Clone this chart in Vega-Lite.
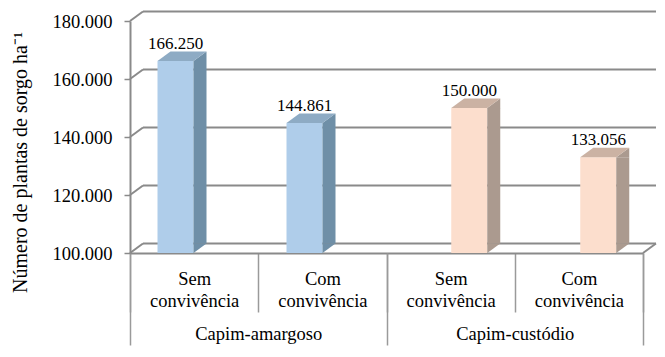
{
  "$schema": "https://vega.github.io/schema/vega-lite/v6.json",
  "width": 526,
  "height": 232,
  "autosize": "none",
  "padding": {"left": 130, "top": 21, "right": 9, "bottom": 104},
  "background": "white",
  "config": {"view": {"stroke": null}, "font": "Times New Roman, serif"},
  "datasets": {
    "bars": [
      {"grupo": "Capim-amargoso", "trat": "Sem convivência", "cat": "Capim-amargoso|Sem convivência", "plantas": 166250},
      {"grupo": "Capim-amargoso", "trat": "Com convivência", "cat": "Capim-amargoso|Com convivência", "plantas": 144861},
      {"grupo": "Capim-custódio", "trat": "Sem convivência", "cat": "Capim-custódio|Sem convivência", "plantas": 150000},
      {"grupo": "Capim-custódio", "trat": "Com convivência", "cat": "Capim-custódio|Com convivência", "plantas": 133056}
    ],
    "grid": [{"v": 100000}, {"v": 120000}, {"v": 140000}, {"v": 160000}, {"v": 180000}]
  },
  "layer": [
    {
      "data": {"name": "grid"},
      "mark": {"type": "rule", "color": "#8a8a8a", "strokeWidth": 2, "yOffset": -9.5, "y2Offset": -9.5},
      "encoding": {
        "x": {"datum": 13, "type": "quantitative", "scale": {"domain": [0, 526]}, "axis": null},
        "x2": {"datum": 526},
        "y": {
          "field": "v", "type": "quantitative",
          "scale": {"domain": [100000, 180000], "zero": false, "nice": false},
          "title": "Número de  plantas de sorgo  ha⁻¹",
          "axis": {
            "values": [100000, 120000, 140000, 160000, 180000],
            "labelExpr": "replace(format(datum.value, ','), ',', '.')",
            "grid": false,
            "tickSize": 6, "tickColor": "#8a8a8a", "tickWidth": 1.5,
            "domainColor": "#8a8a8a", "domainWidth": 2,
            "labelFont": "Times New Roman, serif", "labelFontSize": 18.5, "labelColor": "#000000", "labelPadding": 12,
            "title": "Número de  plantas de sorgo  ha⁻¹",
            "titleFont": "Times New Roman, serif", "titleFontSize": 20, "titleFontWeight": "normal", "titleColor": "#000000",
            "titleAngle": -90, "titleX": -110, "titleY": 141, "titleAlign": "center", "titleBaseline": "middle"
          }
        },
        "y2": {"field": "v"}
      }
    },
    {
      "data": {"name": "grid"},
      "mark": {"type": "rule", "color": "#8a8a8a", "strokeWidth": 2, "y2Offset": -9.5},
      "encoding": {
        "x": {"datum": 0, "type": "quantitative", "scale": {"domain": [0, 526]}, "axis": null},
        "x2": {"datum": 13},
        "y": {"field": "v", "type": "quantitative", "title": "Número de  plantas de sorgo  ha⁻¹"},
        "y2": {"field": "v"}
      }
    },
    {
      "data": {"values": [{"v": 100000}]},
      "mark": {"type": "rule", "color": "#8a8a8a", "strokeWidth": 2, "y2Offset": -9.5},
      "encoding": {
        "x": {"datum": 513, "type": "quantitative", "scale": {"domain": [0, 526]}, "axis": null},
        "x2": {"datum": 526},
        "y": {"field": "v", "type": "quantitative", "title": "Número de  plantas de sorgo  ha⁻¹"},
        "y2": {"field": "v"}
      }
    },
    {
      "data": {"name": "bars"},
      "mark": {"type": "point", "opacity": 0},
      "encoding": {
        "x": {
          "field": "cat", "type": "nominal", "sort": null,
          "scale": {"type": "band", "range": [0, 513], "paddingInner": 0, "paddingOuter": 0},
          "axis": {
            "orient": "bottom", "title": null, "labelAngle": 0,
            "labelExpr": "datum.label ? split(split(datum.label, '|')[1], ' ') : ''",
            "tickBand": "extent", "tickSize": 59, "tickColor": "#9a9a9a", "tickWidth": 1.5,
            "domainColor": "#8a8a8a", "domainWidth": 2,
            "labelFont": "Times New Roman, serif", "labelFontSize": 18.5, "labelColor": "#000000",
            "labelPadding": -43, "labelLineHeight": 22, "labelBaseline": "top"
          }
        },
        "y": {"field": "plantas", "type": "quantitative", "title": "Número de  plantas de sorgo  ha⁻¹"}
      }
    },
    {
      "data": {"name": "bars"},
      "mark": {"type": "point", "opacity": 0},
      "encoding": {
        "x": {
          "field": "grupo", "type": "nominal", "sort": null,
          "scale": {"type": "band", "range": [0, 513], "paddingInner": 0, "paddingOuter": 0},
          "axis": {
            "orient": "bottom", "title": null, "labelAngle": 0, "domain": false,
            "tickBand": "extent", "tickSize": 92, "tickColor": "#9a9a9a", "tickWidth": 1.5,
            "labelFont": "Times New Roman, serif", "labelFontSize": 18.5, "labelColor": "#000000",
            "labelPadding": -21, "labelBaseline": "top"
          }
        },
        "y": {"field": "plantas", "type": "quantitative", "title": "Número de  plantas de sorgo  ha⁻¹"}
      }
    },
    {
      "data": {"name": "bars"},
      "mark": {"type": "bar", "width": 36},
      "encoding": {
        "x": {"field": "grupo", "type": "nominal", "sort": null, "scale": {"type": "band", "range": [-36.875, 550.625], "paddingInner": 0, "paddingOuter": 0}, "axis": null},
        "xOffset": {"field": "trat", "type": "nominal", "sort": ["Sem convivência", "Com convivência"], "scale": {"type": "band", "range": [17.875, 275.875], "paddingInner": 0, "paddingOuter": 0}},
        "y": {"field": "plantas", "type": "quantitative", "title": "Número de  plantas de sorgo  ha⁻¹"},
        "y2": {"datum": 100000},
        "fill": {"condition": {"test": "datum.grupo == 'Capim-amargoso'", "value": "#afcdea"}, "value": "#fcdecd"}
      }
    },
    {
      "data": {"name": "bars"},
      "mark": {"type": "bar", "width": 13, "y2Offset": -9.5},
      "encoding": {
        "x": {"field": "grupo", "type": "nominal", "sort": null, "scale": {"type": "band", "range": [-12.375, 575.125], "paddingInner": 0, "paddingOuter": 0}, "axis": null},
        "xOffset": {"field": "trat", "type": "nominal", "sort": ["Sem convivência", "Com convivência"], "scale": {"type": "band", "range": [17.875, 275.875], "paddingInner": 0, "paddingOuter": 0}},
        "y": {"field": "plantas", "type": "quantitative", "title": "Número de  plantas de sorgo  ha⁻¹"},
        "y2": {"datum": 100000},
        "fill": {"condition": {"test": "datum.grupo == 'Capim-amargoso'", "value": "#6f8fa7"}, "value": "#ab9a8f"}
      }
    },
    {
      "data": {"name": "bars"},
      "mark": {"type": "point", "filled": true, "opacity": 1, "size": 400, "strokeWidth": 0, "shape": "M 1.8 0 L 3.1 -0.95 L 3.1 0.02 L 1.8 0.02 Z"},
      "encoding": {
        "x": {"field": "grupo", "type": "nominal", "sort": null, "scale": {"type": "band", "range": [-36.875, 550.625], "paddingInner": 0, "paddingOuter": 0}, "axis": null},
        "xOffset": {"field": "trat", "type": "nominal", "sort": ["Sem convivência", "Com convivência"], "scale": {"type": "band", "range": [17.875, 275.875], "paddingInner": 0, "paddingOuter": 0}},
        "y": {"field": "plantas", "type": "quantitative", "title": "Número de  plantas de sorgo  ha⁻¹"},
        "fill": {"condition": {"test": "datum.grupo == 'Capim-amargoso'", "value": "#6f8fa7"}, "value": "#ab9a8f"}
      }
    },
    {
      "data": {"name": "bars"},
      "mark": {"type": "point", "filled": true, "opacity": 1, "size": 400, "strokeWidth": 0, "shape": "M 1.8 -0.97 L 1.8 0 L 3.1 -0.95 Z"},
      "encoding": {
        "x": {"field": "grupo", "type": "nominal", "sort": null, "scale": {"type": "band", "range": [-36.875, 550.625], "paddingInner": 0, "paddingOuter": 0}, "axis": null},
        "xOffset": {"field": "trat", "type": "nominal", "sort": ["Sem convivência", "Com convivência"], "scale": {"type": "band", "range": [17.875, 275.875], "paddingInner": 0, "paddingOuter": 0}},
        "y": {"datum": 100000, "type": "quantitative", "title": "Número de  plantas de sorgo  ha⁻¹"},
        "fill": {"condition": {"test": "datum.grupo == 'Capim-amargoso'", "value": "#6f8fa7"}, "value": "#ab9a8f"}
      }
    },
    {
      "data": {"name": "bars"},
      "mark": {"type": "point", "filled": true, "opacity": 1, "size": 400, "strokeWidth": 0, "shape": "M -1.8 0 L 1.8 0 L 3.1 -0.95 L -0.5 -0.95 Z"},
      "encoding": {
        "x": {"field": "grupo", "type": "nominal", "sort": null, "scale": {"type": "band", "range": [-36.875, 550.625], "paddingInner": 0, "paddingOuter": 0}, "axis": null},
        "xOffset": {"field": "trat", "type": "nominal", "sort": ["Sem convivência", "Com convivência"], "scale": {"type": "band", "range": [17.875, 275.875], "paddingInner": 0, "paddingOuter": 0}},
        "y": {"field": "plantas", "type": "quantitative", "title": "Número de  plantas de sorgo  ha⁻¹"},
        "fill": {"condition": {"test": "datum.grupo == 'Capim-amargoso'", "value": "#8eabc4"}, "value": "#cbb2a3"}
      }
    },
    {
      "data": {"name": "bars"},
      "transform": [{"calculate": "replace(format(datum.plantas, ','), ',', '.')", "as": "rotulo"}],
      "mark": {"type": "text", "baseline": "bottom", "align": "center", "dy": -8, "font": "Times New Roman, serif", "fontSize": 17, "color": "#000000"},
      "encoding": {
        "x": {"field": "grupo", "type": "nominal", "sort": null, "scale": {"type": "band", "range": [-36.875, 550.625], "paddingInner": 0, "paddingOuter": 0}, "axis": null},
        "xOffset": {"field": "trat", "type": "nominal", "sort": ["Sem convivência", "Com convivência"], "scale": {"type": "band", "range": [17.875, 275.875], "paddingInner": 0, "paddingOuter": 0}},
        "y": {"field": "plantas", "type": "quantitative", "title": "Número de  plantas de sorgo  ha⁻¹"},
        "text": {"field": "rotulo"}
      }
    }
  ],
  "resolve": {"scale": {"x": "independent"}, "axis": {"x": "independent"}}
}
